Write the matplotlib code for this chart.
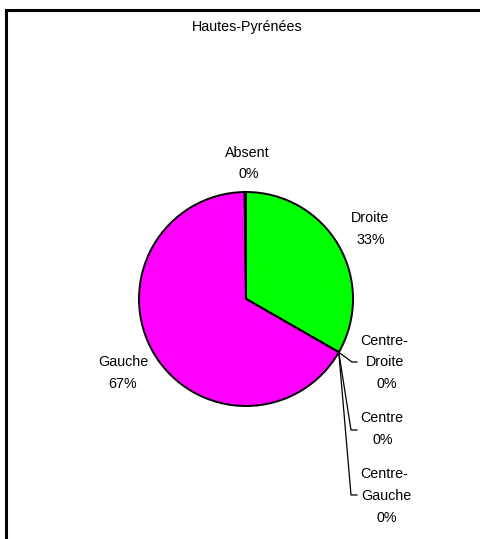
import matplotlib
matplotlib.use("Agg")
import matplotlib.pyplot as plt
import numpy as np

# Vote shares for Hautes-Pyrénées (percent), in drawing order clockwise from 12 o'clock
categories = ["Droite", "Centre-Droite", "Centre", "Centre-Gauche", "Gauche", "Absent"]
shares = [33.3, 0.0, 0.0, 0.0, 66.5, 0.2]
colors = ["#00ff00", "#ffff00", "#ff9900", "#ff66cc", "#ff00ff", "#000000"]
title = "Hautes-Pyrénées"

W, H = 481, 539
DPI = 100
plt.rcParams["font.family"] = ["Liberation Sans", "DejaVu Sans"]

fig = plt.figure(figsize=(W / DPI, H / DPI), dpi=DPI)
fig.patch.set_facecolor("white")

# Overlay axes in pixel coordinates for the frame, texts and leader lines
ov = fig.add_axes([0, 0, 1, 1])
ov.set_xlim(0, W)
ov.set_ylim(H, 0)
ov.axis("off")

# Chart frame (extends past the right and bottom edges)
ov.plot([6, 6, W + 5], [H + 5, 10, 10], color="black", lw=2.2, solid_joinstyle="miter")

# Pie placement (pixels)
cx, cy, r = 246, 299, 107
pie_ax = fig.add_axes([(cx - r) / W, (H - cy - r) / H, 2 * r / W, 2 * r / H])
pie_ax.pie(shares, colors=colors, startangle=90, counterclock=False,
           wedgeprops=dict(edgecolor="black", linewidth=1.4), radius=1.0)
pie_ax.set_xlim(-1, 1)
pie_ax.set_ylim(-1, 1)
pie_ax.set_aspect("equal")
pie_ax.axis("off")

total = sum(shares)
fracs = [s / total for s in shares]
pct = [f"{int(np.floor(s / total * 100 + 0.5))}%" for s in shares]

def edge_point(cum):
    ang = np.deg2rad(90 - 360 * cum)
    return cx + r * np.cos(ang), cy - r * np.sin(ang)

fs = 10.3
ov.text(247, 27, title, ha="center", va="center", fontsize=fs, color="#000000")

labels_pos = {
    "Absent": [(247, 153), (249, 174)],
    "Droite": [(370, 218), (371, 240)],
    "Gauche": [(123, 362), (123, 384)],
    "Centre-Droite": [(384, 341), (385, 362), (387, 384)],
    "Centre": [(382, 418), (383, 440)],
    "Centre-Gauche": [(384, 474), (386, 496), (387, 518)],
}

for name, p in zip(categories, pct):
    pos = labels_pos[name]
    if name.startswith("Centre-"):
        lines = [name.split("-")[0] + "-", name.split("-")[1], p]
    else:
        lines = [name, p]
    for (x, y), t in zip(pos, lines):
        ov.text(x, y, t, ha="center", va="center", fontsize=fs, color="#000000")

# Leader lines from the zero-share wedges to their labels
cum = np.cumsum([0] + fracs)
for name, yl in [("Centre-Droite", 362), ("Centre", 430), ("Centre-Gauche", 495)]:
    i = categories.index(name)
    px, py = edge_point(cum[i] + fracs[i] / 2)
    if name == "Centre-Droite":
        xs, ys = [px, 352, 357], [py, yl, yl]
    else:
        xs, ys = [px, 351, 357], [py, yl, yl]
    ov.plot(xs, ys, color="black", lw=0.9)

fig.savefig("out.png", dpi=DPI, facecolor="white")
